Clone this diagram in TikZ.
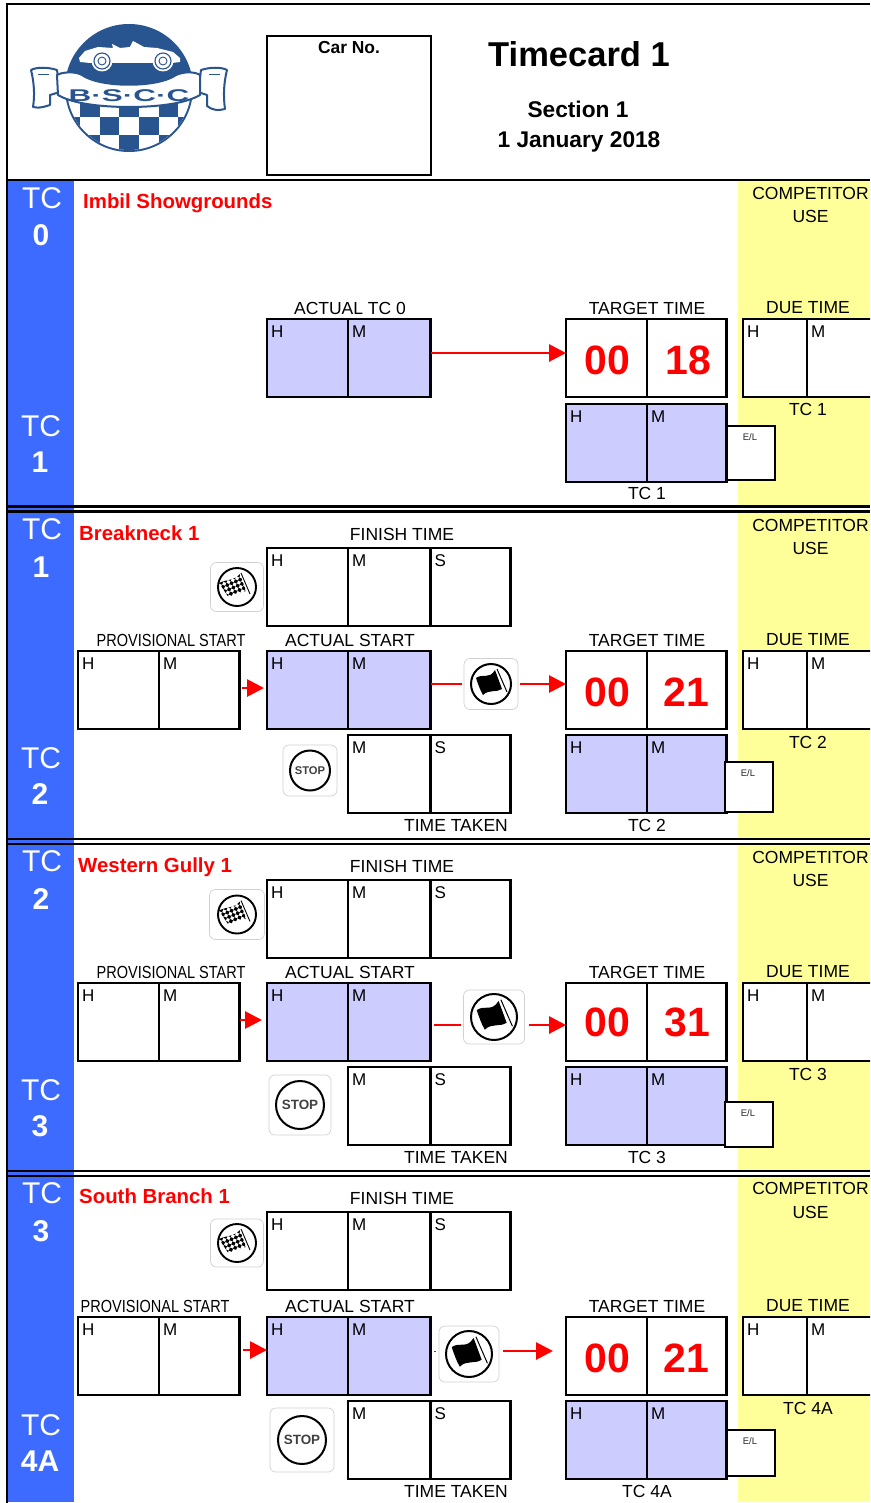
\documentclass[tikz,border=0pt]{standalone}
\usepackage{fontspec}
\setmainfont{Liberation Sans}
\usetikzlibrary{arrows.meta}
\definecolor{sidebl}{HTML}{3D6BFF}
\definecolor{compyl}{HTML}{FFFF99}
\definecolor{lav}{HTML}{CCCCFF}
\definecolor{logobl}{HTML}{28548F}
\definecolor{rd}{HTML}{FF0000}
\tikzset{
  x=1pt,y=-1pt,
  cellbox/.style={draw=black,line width=2.8pt,inner sep=0pt,outer sep=0pt,rectangle},
  celllab/.style={anchor=north west,inner sep=0pt,font=\fontsize{17}{18}\selectfont},
  txt/.style={inner sep=0pt,font=\fontsize{17.5}{19}\selectfont},
  tcl/.style={inner sep=0pt,text=white,font=\fontsize{30}{32}\selectfont},
  tcn/.style={inner sep=0pt,text=white,font=\fontsize{30}{32}\bfseries\selectfont},
  ttl/.style={inner sep=0pt,text=rd,anchor=west,font=\fontsize{20.4}{22}\bfseries\selectfont},
  big/.style={inner sep=0pt,text=rd,font=\fontsize{41}{43}\bfseries\selectfont},
  elt/.style={inner sep=0pt,text=black!85,font=\fontsize{9.5}{11}\selectfont},
  iconbox/.style={draw=black!18,line width=.7pt,fill=white,rounded corners=6pt,inner sep=0pt,outer sep=0pt,rectangle},
  arr/.style={draw=rd,line width=2.8pt,-{Triangle[length=17pt,width=17pt]}},
  plainred/.style={draw=rd,line width=2.8pt},
  logoln/.style={draw=logobl,line width=2pt,fill=white,line join=round},
}
% \cell{name}{x0}{y0}{x1}{y1}{fill}{label}
\newcommand{\cell}[7]{%
  \pgfmathsetmacro{\cw}{#4-#2}\pgfmathsetmacro{\ch}{#5-#3}%
  \node[cellbox,fill=#6,minimum width=\cw pt,minimum height=\ch pt] (#1) at ({(#2+#4)/2},{(#3+#5)/2}) {};%
  \node[celllab] (#1-l) at ({#2+4},{#3+6.5}) {#7};}
\newcommand{\lab}[4]{\node[txt] (#1) at (#2,#3) {#4};}
% \stage{prefix}{finish y}{actual y}{lower y}
\newcommand{\stage}[4]{%
  \pgfmathsetmacro{\fa}{#2+78}\pgfmathsetmacro{\aa}{#3+78}\pgfmathsetmacro{\la}{#4+78}%
  \edef\stagedo{%
  \noexpand\cell{#1fh}{267}{#2}{348}{\fa}{white}{H}%
  \noexpand\cell{#1fm}{348}{#2}{430.5}{\fa}{white}{M}%
  \noexpand\cell{#1fs}{430.5}{#2}{510.5}{\fa}{white}{S}%
  \noexpand\cell{#1ph}{78}{#3}{159}{\aa}{white}{H}%
  \noexpand\cell{#1pm}{159}{#3}{239.5}{\aa}{white}{M}%
  \noexpand\cell{#1ah}{267}{#3}{348}{\aa}{lav}{H}%
  \noexpand\cell{#1am}{348}{#3}{430.5}{\aa}{lav}{M}%
  \noexpand\cell{#1th}{566}{#3}{647}{\aa}{white}{}%
  \noexpand\cell{#1tm}{647}{#3}{726.5}{\aa}{white}{}%
  \noexpand\cell{#1dh}{743}{#3}{807}{\aa}{white}{H}%
  \noexpand\cell{#1dm}{807}{#3}{874}{\aa}{white}{M}%
  \noexpand\cell{#1gm}{348}{#4}{430.5}{\la}{white}{M}%
  \noexpand\cell{#1gs}{430.5}{#4}{510.5}{\la}{white}{S}%
  \noexpand\cell{#1lh}{566}{#4}{647}{\la}{lav}{H}%
  \noexpand\cell{#1lm}{647}{#4}{726.5}{\la}{lav}{M}%
  }\stagedo}
% \elbox{name}{x0}{y0}{x1}{y1}
\newcommand{\elbox}[5]{%
  \pgfmathsetmacro{\cw}{#4-#2}\pgfmathsetmacro{\ch}{#5-#3}%
  \node[cellbox,fill=white,minimum width=\cw pt,minimum height=\ch pt] (#1) at ({(#2+#4)/2},{(#3+#5)/2}) {};%
  \node[elt] (#1-l) at ({#2+23},{#3+11}) {E/L};}
% icons: {name}{cx}{cy}{w}{h}{r}
\newcommand{\iconframe}[5]{\node[iconbox,minimum width=#4 pt,minimum height=#5 pt] (#1) at (#2,#3) {};}
\newcommand{\flagicon}[6]{%
  \iconframe{#1}{#2}{#3}{#4}{#5}%
  \pgfmathsetmacro{\icsc}{#6/20}%
  \begin{scope}[shift={(#2,#3)},scale=\icsc]
    \draw[line width=2pt,black] (0,0) circle[radius=20];
    \fill[black] (-15,-6) .. controls (-8,-11) and (-2,-4) .. (4,-14) -- (11,5) .. controls (5,9) and (-2,5) .. (-8,11) .. controls (-11,6) and (-13,0) .. (-15,-6) -- cycle;
    \draw[line width=1pt,black] (6,-15) -- (16,8);
  \end{scope}}
\newcommand{\chkicon}[6]{%
  \iconframe{#1}{#2}{#3}{#4}{#5}%
  \pgfmathsetmacro{\icsc}{#6/19}%
  \begin{scope}[shift={(#2,#3)},scale=\icsc]
    \draw[line width=1.9pt,black] (0,0) circle[radius=19];
    \begin{scope}
      \clip (-18,-4) .. controls (-10,-8) and (-3,-6) .. (3,-13) -- (9,4) .. controls (3,6) and (-2,5) .. (-8,11) -- cycle;
      \begin{scope}[rotate=-22]
        \foreach \i in {0,...,9}{\foreach \j in {0,...,8}{
          \pgfmathparse{int(mod(\i+\j,2))}
          \ifnum\pgfmathresult=0
            \fill[black] ({-18+\i*3.3},{-13+\j*3.3}) rectangle ++(3.3,3.3);
          \fi}}
      \end{scope}
    \end{scope}
    \draw[line width=.9pt,black] (4,-14) -- (13,7);
  \end{scope}}
\newcommand{\stopicon}[6]{%
  \iconframe{#1}{#2}{#3}{#4}{#5}%
  \pgfmathsetmacro{\icsc}{#6/20}\pgfmathsetmacro{\stf}{#6*.56}%
  \begin{scope}[shift={(#2,#3)},scale=\icsc]
    \draw[line width=2pt,black] (0,0) circle[radius=20];
  \end{scope}
  \node[inner sep=0pt,text=black!75,font=\fontsize{\stf}{\stf}\bfseries\selectfont] (#1-t) at (#2,#3) {STOP};}
\newcommand{\sidelabels}[9]{%
  \node[tcl] (#1a) at (42,#2) {TC};
  \node[tcn] (#1b) at (41,#3) {#4};
  \node[tcl] (#1c) at (41,#5) {TC};
  \node[tcn] (#1d) at (40,#6) {#7};
  \lab{#1e}{810.5}{#8}{COMPETITOR}
  \lab{#1f}{810.5}{#9}{USE}}
\begin{document}
\begin{tikzpicture}
\useasboundingbox (0,0) rectangle (870,1503);
\clip (0,0) rectangle (870,1503);
\fill[white] (0,0) rectangle (870,1503);
% bands
\fill[sidebl] (8,181) rectangle (74,1502);
\fill[compyl] (738,181) rectangle (870,1502);
\foreach \yy in {507,839.5,1171.5}{
  \fill[white] (74,\yy) rectangle (870,{\yy+4});
  \fill[black] (8,{\yy-1.8}) rectangle (870,{\yy+.8});
  \fill[black] (8,{\yy+3.2}) rectangle (870,{\yy+5.8});
}
\fill[black] (5.6,2.6) rectangle (870,5.4);
\fill[black] (5.6,178.6) rectangle (870,181.4);
\fill[black] (5.6,2.6) rectangle (8.2,1503);
% logo
\begin{scope}
  \fill[logobl] (129,88) circle[radius=64];
  \begin{scope}
    \clip (129,88) circle[radius=62];
    \fill[white] (50,100) rectangle (210,160);
    \foreach \xa/\ya/\xb/\yb in {80.3/100/99.7/117,119.3/100/139/117,158.7/100/178.3/117,
        60.7/117/80.3/135,99.7/117/119.3/135,139/117/158.7/135,178.3/117/198/135,
        80.3/135/99.7/153,119.3/135/139/153,158.7/135/178.3/153}
      \fill[logobl] (\xa,\ya) rectangle (\xb,\yb);
  \end{scope}
  \fill[white] (79,58) -- (85,51) -- (98,47) -- (113,48) -- (112,44) -- (120,48) -- (130,47) -- (133,41) -- (144,47) -- (157,48) -- (173,52) -- (180,58) -- (180,62) -- (172,63) -- (90,63) -- (80,62) -- cycle;
  \foreach \cx in {102,163}{
    \fill[white] (\cx,61) circle[radius=10.5];
    \draw[logobl,line width=1.1pt] (\cx,61) circle[radius=8];
    \draw[logobl,line width=.9pt] (\cx,61) circle[radius=4];
  }
  \draw[logoln] (57,70) .. controls (48,67) and (36,67) .. (31,70) .. controls (34,82) and (35,95) .. (33,107) .. controls (40,109) and (46,106) .. (50,105) -- (50,95) -- (60,92) -- cycle;
  \draw[logoln] (201,70) .. controls (210,67) and (222,67) .. (227,70) .. controls (224,82) and (223,95) .. (225,109) .. controls (218,111) and (212,110) .. (207,106) -- (207,95) -- (198,92) -- cycle;
  \draw[logoln] (57,75) .. controls (62,72) and (75,71) .. (82,75) .. controls (100,88) and (158,88) .. (176,75) .. controls (185,71) and (196,72) .. (200,75) -- (200,95) .. controls (185,104) and (155,107) .. (129,107) .. controls (103,107) and (73,104) .. (58,95) -- cycle;
  \draw[logobl,line width=1pt] (38,75) -- (49,75) (209,75) -- (220,75);
  \node[inner sep=0pt,text=logobl,font=\fontsize{17}{18}\bfseries\selectfont] (logotxt) at (129,95.5) {\scalebox{1.85}[1]{B·S·C·C}};
\end{scope}
% header
\node[cellbox,fill=white,minimum width=164pt,minimum height=139pt] (carbox) at (349,105.5) {};
\node[inner sep=0pt,font=\fontsize{17.4}{19}\bfseries\selectfont] (carno) at (349,48) {Car No.};
\node[inner sep=0pt,font=\fontsize{34.5}{36}\bfseries\selectfont] (title) at (579,54) {Timecard 1};
\node[inner sep=0pt,font=\fontsize{22.7}{24}\bfseries\selectfont] (sect) at (578,109) {Section 1};
\node[inner sep=0pt,font=\fontsize{22.7}{24}\bfseries\selectfont] (date) at (579,142) {1 January 2018};
% section 1
\sidelabels{s1}{198}{235.5}{0}{426}{462.5}{1}{193}{216}
\node[ttl] (s1t) at (83,203) {Imbil Showgrounds};
\cell{a0h}{267}{319}{348}{397}{lav}{H}
\cell{a0m}{348}{319}{430.5}{397}{lav}{M}
\cell{t0h}{566}{319}{647}{397}{white}{}
\cell{t0m}{647}{319}{726.5}{397}{white}{}
\cell{d0h}{743}{319}{807}{397}{white}{H}
\cell{d0m}{807}{319}{874}{397}{white}{M}
\cell{l0h}{566}{404}{647}{482}{lav}{H}
\cell{l0m}{647}{404}{726.5}{482}{lav}{M}
\elbox{el0}{727}{426}{775}{480}
\lab{s1g}{350}{308}{ACTUAL TC 0}
\lab{s1h}{647}{308}{TARGET TIME}
\lab{s1i}{808}{308}{DUE TIME}
\lab{s1j}{808}{409}{TC 1}
\lab{s1k}{647}{493}{TC 1}
\node[big] (s1n) at (607,360) {00};
\node[big] (s1m) at (688,360) {18};
\draw[arr] ([yshift=5pt]a0m.east) -- ([yshift=5pt]t0h.west);
% section 2
\sidelabels{s2}{529}{567.5}{1}{758}{794.5}{2}{525}{548}
\node[ttl] (s2t) at (79,533.5) {Breakneck 1};
\stage{b}{548}{651}{735}
\elbox{el1}{725}{762}{773}{812}
\lab{s2g}{402}{534}{FINISH TIME}
\node[txt] (s2h) at (171,640) {\scalebox{.83}[1]{PROVISIONAL START}};
\lab{s2i}{350}{640}{ACTUAL START}
\lab{s2j}{647}{640}{TARGET TIME}
\lab{s2k}{808}{640}{DUE TIME}
\lab{s2l}{808}{742}{TC 2}
\lab{s2m}{456}{825}{TIME TAKEN}
\lab{s2n}{647}{825}{TC 2}
\node[big] (s2o) at (607,692) {00};
\node[big] (s2p) at (686,692) {21};
\chkicon{b1}{237}{587}{53}{49}{19}
\flagicon{b2}{491}{684}{54}{51}{20}
\stopicon{b3}{310}{770.5}{54}{51}{20}
\draw[arr,shorten <=2pt,shorten >=3pt] ([yshift=2pt]bpm.east) -- ([yshift=2pt]bah.west);
\draw[plainred] (bam.east |- b2.west) -- ([xshift=-2pt]b2.west);
\draw[arr,shorten <=2pt] (b2.east) -- (b2.east -| bth.west);
% section 3
\sidelabels{s3}{861}{899}{2}{1090}{1126}{3}{857}{880}
\node[ttl] (s3t) at (78,867) {Western Gully 1};
\stage{w}{880}{983}{1067}
\elbox{el2}{725}{1102}{773}{1147}
\lab{s3g}{402}{866.5}{FINISH TIME}
\node[txt] (s3h) at (171,972) {\scalebox{.83}[1]{PROVISIONAL START}};
\lab{s3i}{350}{972}{ACTUAL START}
\lab{s3j}{647}{972}{TARGET TIME}
\lab{s3k}{808}{972}{DUE TIME}
\lab{s3l}{808}{1074}{TC 3}
\lab{s3m}{456}{1157}{TIME TAKEN}
\lab{s3n}{647}{1157}{TC 3}
\node[big] (s3o) at (607,1022) {00};
\node[big] (s3p) at (687,1022) {31};
\chkicon{w1}{237}{914.5}{55}{50}{19}
\flagicon{w2}{494}{1017}{61}{54}{23}
\stopicon{w3}{300}{1105}{62}{60}{24}
\draw[arr,shorten >=5pt] ([yshift=2pt]wpm.east) -- ([yshift=2pt]wah.west);
\draw[plainred] ([xshift=3pt,yshift=-3pt]wam.east) -- ([xshift=-3pt,yshift=-8pt]w2.west);
\draw[arr,shorten <=4pt] ([yshift=-8pt]w2.east) -- ([yshift=-3pt]wth.west);
% section 4
\sidelabels{s4}{1193}{1231}{3}{1425}{1461}{4A}{1188}{1212}
\node[ttl] (s4t) at (79,1196.5) {South Branch 1};
\stage{x}{1212}{1317}{1401}
\elbox{el3}{727}{1430}{775}{1476}
\lab{s4g}{402}{1198.5}{FINISH TIME}
\node[txt] (s4h) at (155,1306) {\scalebox{.83}[1]{PROVISIONAL START}};
\lab{s4i}{350}{1306}{ACTUAL START}
\lab{s4j}{647}{1306}{TARGET TIME}
\lab{s4k}{808}{1306}{DUE TIME}
\lab{s4l}{808}{1408}{TC 4A}
\lab{s4m}{456}{1491.5}{TIME TAKEN}
\lab{s4n}{647}{1491.5}{TC 4A}
\node[big] (s4o) at (607,1358) {00};
\node[big] (s4p) at (686,1358) {21};
\chkicon{x1}{237}{1243}{53}{48}{19}
\flagicon{x2}{469}{1354}{60}{56}{23}
\stopicon{x3}{302}{1440}{64}{64}{24}
\draw[arr,shorten <=3pt] ([yshift=6pt]xpm.east) -- ([yshift=6pt]xah.west);
\draw[draw=rd,line width=1pt] ([xshift=3.5pt,yshift=5pt]xam.east) -- ([xshift=5pt,yshift=5pt]xam.east);
\draw[arr,shorten <=4pt,shorten >=13pt] ([yshift=3pt]x2.east) -- ([yshift=5pt]xth.west);
\end{tikzpicture}
\end{document}
